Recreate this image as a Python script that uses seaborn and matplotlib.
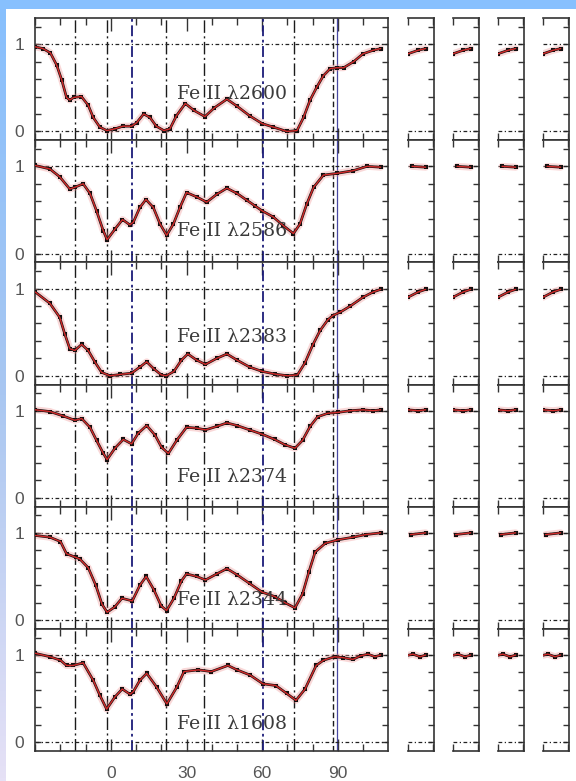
import numpy as np
import matplotlib
matplotlib.use("Agg")
import matplotlib.pyplot as plt
from matplotlib.patches import Rectangle
from matplotlib.colors import LinearSegmentedColormap
from matplotlib.ticker import MultipleLocator, FixedLocator
import pandas as pd
import seaborn as sns

sns.set_theme(style="white")
plt.rcParams['font.family'] = ['Liberation Sans', 'DejaVu Sans']

# ---- transitions shown, top to bottom ----
line_names = ["Fe II λ2600", "Fe II λ2586", "Fe II λ2383",
              "Fe II λ2374", "Fe II λ2344", "Fe II λ1608"]

# ---- normalised flux vs. velocity (km/s) for each transition ----
vel_2600 = [-30, -27, -24, -21.5, -19.5, -17.6, -16.3, -14.7, -11.7, -9, -7, -4.4, -1.6, 1.6, 4.8,
            8.2, 10.2, 13, 15.5, 18, 21, 23.4, 26, 29.5, 33, 37.3, 41, 46, 50, 55, 60, 64.4, 69.8,
            73.8, 76.4, 79, 81.7, 84.3, 87, 89.5, 92.3, 96.3, 100, 104, 107]
flux_2600 = [0.97, 0.95, 0.90, 0.76, 0.59, 0.39, 0.36, 0.39, 0.40, 0.30, 0.16, 0.05, 0.01, 0.03, 0.06,
             0.06, 0.10, 0.20, 0.16, 0.06, 0.01, 0.03, 0.18, 0.32, 0.24, 0.17, 0.27, 0.37, 0.29, 0.18,
             0.09, 0.05, 0.00, 0.01, 0.16, 0.36, 0.51, 0.64, 0.72, 0.73, 0.73, 0.80, 0.89, 0.93, 0.95]

vel_2586 = [-30, -24.2, -20.3, -16.3, -14.3, -11, -8.3, -5.7, -3, -1.5, 1.6, 4.6, 7.5, 8.9, 11.5,
            13.9, 16.8, 19.5, 22.1, 24.8, 27.4, 30, 34, 38, 42, 46, 50, 54, 57, 60, 64.4, 68.4, 72.4,
            75, 77.7, 80.4, 84.3, 89.7, 96, 101.6, 107]
flux_2586 = [1.01, 0.97, 0.88, 0.74, 0.76, 0.80, 0.69, 0.49, 0.26, 0.16, 0.28, 0.39, 0.33, 0.36, 0.53,
             0.62, 0.53, 0.34, 0.21, 0.34, 0.53, 0.70, 0.65, 0.59, 0.68, 0.75, 0.69, 0.61, 0.55, 0.49,
             0.42, 0.32, 0.23, 0.34, 0.57, 0.76, 0.90, 0.92, 0.95, 1.00, 0.99]

vel_2383 = [-30, -24.2, -20.3, -18.3, -16.3, -14.3, -11.6, -9, -6.4, -3.7, -0.4, 3.6, 8.2, 11.5,
            14.2, 17, 20, 22, 25, 28, 30.5, 34, 37.5, 42, 46, 50, 55, 60, 65, 70, 74, 77, 80, 83, 86,
            88, 91, 95, 100, 104, 107]
flux_2383 = [0.96, 0.83, 0.67, 0.48, 0.31, 0.29, 0.36, 0.29, 0.16, 0.04, 0.00, 0.015, 0.03, 0.10,
             0.16, 0.08, 0.01, 0.00, 0.05, 0.18, 0.25, 0.18, 0.13, 0.20, 0.25, 0.18, 0.10, 0.05, 0.02,
             0.00, 0.01, 0.15, 0.35, 0.52, 0.64, 0.69, 0.73, 0.80, 0.90, 0.96, 0.99]

vel_2374 = [-30, -24.2, -19, -14.3, -11.6, -8.3, -5.7, -3, -1.5, 1.6, 4.9, 8.2, 10.8, 14.2, 17.5,
            20.1, 22.8, 26.1, 30, 34, 37.5, 42, 46, 50, 55, 60, 65, 69, 73, 76, 79, 82, 86, 90, 95,
            100, 104, 107]
flux_2374 = [1.01, 0.99, 0.94, 0.89, 0.91, 0.81, 0.66, 0.51, 0.44, 0.57, 0.67, 0.62, 0.74, 0.83, 0.72,
             0.58, 0.51, 0.66, 0.81, 0.80, 0.78, 0.82, 0.86, 0.83, 0.78, 0.73, 0.67, 0.61, 0.57, 0.66,
             0.82, 0.93, 0.97, 0.98, 1.00, 1.01, 1.00, 1.01]

vel_2344 = [-30, -24.2, -20, -17.6, -14, -12.3, -9, -6, -3.5, -1.5, 1.5, 4.4, 8.5, 11.5, 14, 17, 20,
            22.1, 25, 28, 30, 34, 37.5, 42, 46, 50, 55, 60, 65, 69, 73, 76, 78.5, 81, 85, 90, 96,
            101, 107]
flux_2344 = [0.97, 0.95, 0.90, 0.76, 0.72, 0.70, 0.60, 0.40, 0.18, 0.09, 0.15, 0.25, 0.22, 0.40, 0.50,
             0.35, 0.16, 0.11, 0.25, 0.45, 0.53, 0.50, 0.46, 0.53, 0.59, 0.52, 0.42, 0.32, 0.27, 0.20,
             0.14, 0.30, 0.55, 0.78, 0.88, 0.92, 0.95, 0.98, 1.00]

vel_1608 = [-30, -24.2, -20, -17.6, -15, -11, -7, -4.4, -1.7, 1.6, 4.5, 7.6, 8.9, 11.5, 14.2, 18.2,
            22.2, 26.1, 29, 34.7, 39.8, 46.4, 50, 55.2, 60.3, 65.4, 69.7, 73.4, 77, 81.4, 84.3, 88.7,
            92, 96, 99, 101.9, 104.8, 107]
flux_1608 = [1.02, 0.98, 0.94, 0.88, 0.88, 0.91, 0.71, 0.54, 0.38, 0.52, 0.61, 0.55, 0.58, 0.71, 0.79,
             0.63, 0.44, 0.63, 0.81, 0.83, 0.81, 0.88, 0.83, 0.77, 0.67, 0.65, 0.56, 0.48, 0.61, 0.88,
             0.94, 0.98, 0.97, 0.95, 0.99, 1.01, 0.98, 1.00]

velocities = [vel_2600, vel_2586, vel_2383, vel_2374, vel_2344, vel_1608]
fluxes = [flux_2600, flux_2586, flux_2383, flux_2374, flux_2344, flux_1608]

# label heights (in flux units) inside each panel
label_flux = [0.43, 0.26, 0.44, 0.24, 0.23, 0.21]

# component velocities marked by vertical lines
comp_black = [-14.3, -1.4, 22.0, 37.1, 72.7]
comp_blue = [8.5, 60.2]
edge_black = 88.0
edge_blue = 89.6

xtick_major = [0, 30, 60, 90]

# ---- figure geometry (pixels) ----
W, H = 576, 781
fig = plt.figure(figsize=(W / 100, H / 100), dpi=100)
fig.patch.set_facecolor("white")

top_px, bot_px = 18, 751
row_h = (bot_px - top_px) / 6
main_l, main_r = 35, 388
small_lefts = [408, 453, 498, 543]
small_w = 26

# backdrop: blue bar on top, gradient strip on the left
fig.patches.append(Rectangle((0, 1 - 9 / H), 1, 9 / H, transform=fig.transFigure,
                             facecolor="#87c0fe", edgecolor="none", zorder=0))
grad_ax = fig.add_axes([0, 0, 6 / W, 1 - 9 / H])
grad_cmap = LinearSegmentedColormap.from_list("strip", ["#87bffd", "#a9c7f1", "#e6e1f6"])
grad_ax.imshow(np.linspace(0, 1, 256)[:, None], aspect="auto", cmap=grad_cmap)
grad_ax.set_axis_off()

spine_col = "#333333"
dot_style = (0, (3.0, 2.0, 1.0, 2.0))


def style_axes(ax, small=False):
    ax.set_ylim(-0.1, 1.3)
    for s in ax.spines.values():
        s.set_color(spine_col)
        s.set_linewidth(1.2)
    ax.yaxis.set_major_locator(FixedLocator([0, 1]))
    ax.yaxis.set_minor_locator(MultipleLocator(0.2))
    ax.xaxis.set_major_locator(FixedLocator(xtick_major))
    ax.xaxis.set_minor_locator(MultipleLocator(10))
    ax.tick_params(which="both", direction="in", top=True, bottom=True,
                   left=not small, right=True, colors=spine_col, width=1.0)
    ax.tick_params(axis="x", which="major", length=9)
    ax.tick_params(axis="x", which="minor", length=5)
    ax.tick_params(axis="y", which="both", length=4.5)
    ax.tick_params(labelcolor="#555555", labelsize=12.5)
    ax.set_xlabel("")
    ax.set_ylabel("")
    for yv in (0, 1):
        ax.axhline(yv, color="#222222", lw=0.9, ls=dot_style, zorder=1)
    ax.set_facecolor("white")


def draw_spectrum(ax, df):
    sns.lineplot(data=df, x="v", y="f", ax=ax, color="#f09090", lw=5, alpha=0.35,
                 estimator=None, sort=False, zorder=2)
    sns.lineplot(data=df, x="v", y="f", ax=ax, color="#111111", lw=1.9,
                 estimator=None, sort=False, zorder=3)
    sns.scatterplot(data=df, x="v", y="f", ax=ax, color="#111111", marker="s", s=9,
                    linewidth=0, zorder=4)
    sns.lineplot(data=df, x="v", y="f", ax=ax, color="#d42a2a", lw=1.0,
                 estimator=None, sort=False, zorder=5)


for i in range(6):
    y_top = top_px + row_h * i
    rect = [main_l / W, 1 - (y_top + row_h) / H, (main_r - main_l) / W, row_h / H]
    ax = fig.add_axes(rect)
    df = pd.DataFrame({"v": velocities[i], "f": fluxes[i]})

    for xv in comp_black:
        ax.axvline(xv, color="#1a1a1a", lw=1.0, ls=(0, (9, 2.5, 1.5, 2.5)), zorder=1)
    for xv in comp_blue:
        ax.axvline(xv, color="#1b1b78", lw=1.3, ls=(0, (6, 2, 1.5, 2)), zorder=1)
    ax.axvline(edge_black, color="#1a1a1a", lw=1.0, ls=(0, (4, 2)), zorder=1)
    ax.axvline(edge_blue, color="#4848a0", lw=0.9, zorder=1)

    draw_spectrum(ax, df)
    style_axes(ax)
    ax.set_xlim(-30.1, 109.9)
    ax.tick_params(axis="y", pad=8)
    ax.tick_params(axis="x", pad=11, labelbottom=(i == 5))
    ax.set_yticklabels(["0", "1"])
    if i == 5:
        ax.set_xticklabels([str(t) for t in xtick_major])

    ax.text(26.1, label_flux[i], line_names[i], fontfamily=["DejaVu Serif"],
            fontsize=13.6, color="#3a3a3a", ha="left", va="center", zorder=6)

    # narrow side panels repeating the red wing of the profile
    for sl in small_lefts:
        sax = fig.add_axes([sl / W, rect[1], small_w / W, rect[3]])
        sub = df[df["v"] >= 99].reset_index(drop=True)
        draw_spectrum(sax, sub)
        style_axes(sax, small=True)
        sax.set_xlim(100, 110.3)
        sax.spines["left"].set_visible(False)
        sax.tick_params(labelleft=False, labelbottom=False)

fig.savefig("out.png", dpi=100)
